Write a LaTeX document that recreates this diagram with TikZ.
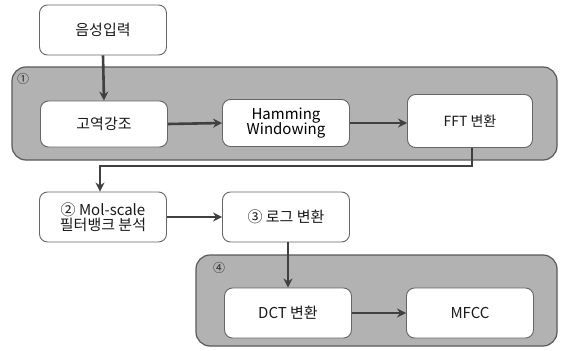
\documentclass[tikz,border=0pt]{standalone}
\usepackage{fontspec}
\setmainfont{Noto Sans CJK KR}
\usetikzlibrary{arrows.meta}
\begin{document}
\begin{tikzpicture}[x=1pt,y=-1pt,
  box/.style={draw=black!60, line width=0.9pt, fill=white, rounded corners=8pt,
    minimum width=127pt, minimum height=50pt, align=center, inner sep=2pt,
    font=\fontsize{15}{17}\selectfont, text=black!90},
  grp/.style={draw=black!65, line width=1.2pt, fill=black!30, rounded corners=14pt},
  arr/.style={draw=black!75, line width=2.6pt, -{Stealth[length=9pt,width=9pt]}},
  num/.style={font=\fontsize{12}{13}\selectfont, text=black!85, inner sep=0pt}]
\useasboundingbox (0,0) rectangle (563,351);
% groups
\draw[grp] (12,67) rectangle (557,160);
\draw[grp] (196,255) rectangle (557,346);
\node[num] (n1) at (23,79) {①};
\node[num] (n4) at (219,268) {④};
% boxes
\node[box] (in) at (103,30) {음성입력};
\node[box, minimum height=46pt] (hpf) at (104,124) {고역강조};
\node[box, minimum height=47pt, text=black] (ham) at (286,123) {Hamming\\[-2pt]Windowing};
\node[box, minimum width=125pt, minimum height=53pt, font=\fontsize{14}{16}\selectfont] (fft) at (470,121) {FFT 변환};
\node[box] (mel) at (103,217) {② Mol-scale\\[-2pt]필터뱅크 분석};
\node[box] (log) at (286,217) {③ 로그 변환};
\node[box] (dct) at (288,313) {DCT 변환};
\node[box] (mfcc) at (470,313) {MFCC};
\coordinate (c1) at (472,166);
\coordinate (c2) at (100,166);
% arrows
\draw[arr] (in.south) -- (hpf.north);
\draw[arr] (hpf.east) -- (ham.west);
\draw[arr] (ham) -- (fft.west |- ham);
\draw[arr] (fft.south -| c1) -- (c1) -- (c2) -- (c2 |- mel.north);
\draw[arr] (mel.east) -- (log.west);
\draw[arr] (log.south -| dct) -- (dct.north);
\draw[arr] (dct.east) -- (mfcc.west);
\end{tikzpicture}
\end{document}
